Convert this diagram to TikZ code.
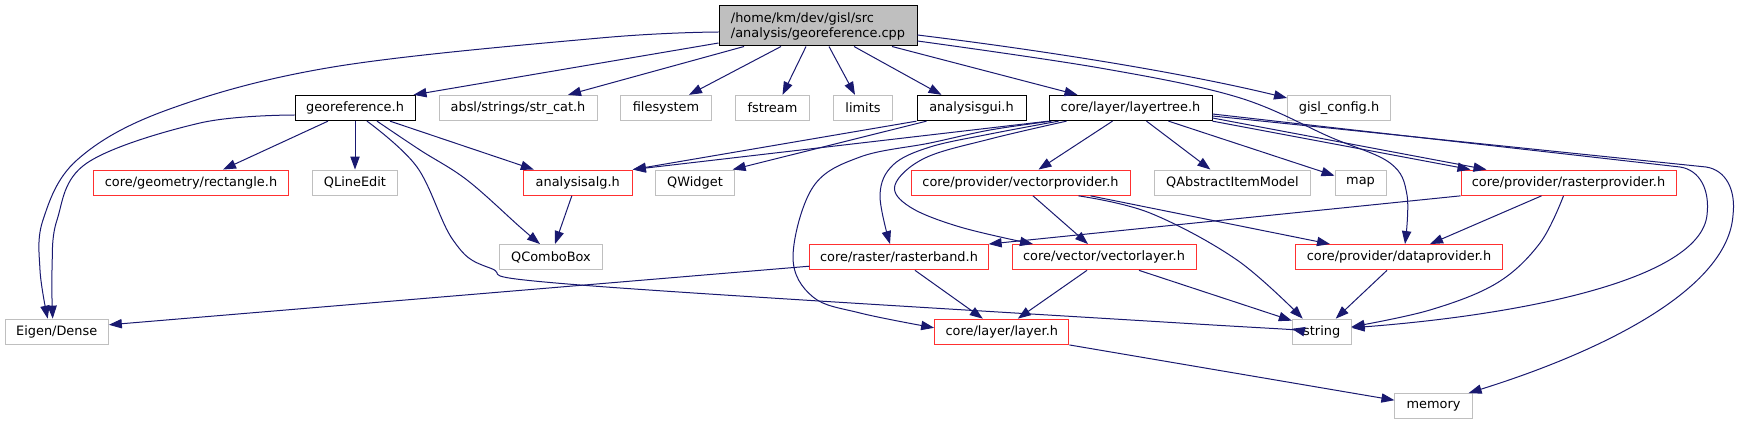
\documentclass[tikz,border=0pt]{standalone}
\usepackage{fontspec}
\setmainfont{DejaVu Sans}
\usetikzlibrary{arrows.meta}
\definecolor{edgeblue}{HTML}{191970}
\definecolor{boxred}{HTML}{FF3030}
\definecolor{boxgray}{HTML}{BFBFBF}
\tikzset{
  nbox/.style={draw, line width=1pt, minimum height=25.3pt, inner sep=0pt, font=\fontsize{12.9pt}{15pt}\selectfont, text=black},
  bnode/.style={nbox, draw=black},
  rnode/.style={nbox, draw=boxred},
  gnode/.style={nbox, draw=boxgray},
  dep/.style={draw=edgeblue, line width=1pt, -{Triangle[length=13pt,width=9.3pt]}},
}
\begin{document}
\begin{tikzpicture}[x=1pt,y=-1pt]
\fill[white] (0,0) rectangle (1739,425);
\useasboundingbox (0,0) rectangle (1739,425);
% row 0
\node[bnode, fill=boxgray, minimum width=198pt, minimum height=40pt, align=left] (root) at (818,26) {/home/km/dev/gisl/src\\/analysis/georeference.cpp};
% row 1
\node[bnode, minimum width=120pt] (geo) at (355,108) {georeference.h};
\node[gnode, minimum width=158pt] (strcat) at (518,108) {absl/strings/str\_cat.h};
\node[gnode, minimum width=91pt] (fsys) at (666,108) {filesystem};
\node[gnode, minimum width=73.6pt] (fstream) at (772.5,108) {fstream};
\node[gnode, minimum width=59.4pt] (limits) at (863,108) {limits};
\node[bnode, minimum width=109pt] (agui) at (971.5,108) {analysisgui.h};
\node[bnode, minimum width=163pt] (ltree) at (1130.5,108) {core/layer/layertree.h};
\node[gnode, minimum width=103pt] (gisl) at (1339,108) {gisl\_config.h};
% row 2
\node[rnode, minimum width=195pt] (rect) at (191,182.7) {core/geometry/rectangle.h};
\node[gnode, minimum width=84.6pt] (qline) at (355,182.7) {QLineEdit};
\node[rnode, minimum width=109pt] (aalg) at (577.8,182.7) {analysisalg.h};
\node[gnode, minimum width=78.3pt] (qwidget) at (695,182.7) {QWidget};
\node[rnode, minimum width=219pt] (vprov) at (1020.5,182.7) {core/provider/vectorprovider.h};
\node[gnode, minimum width=156.6pt] (qaim) at (1232.4,182.7) {QAbstractItemModel};
\node[gnode, minimum width=51pt] (map) at (1360.5,182.7) {map};
\node[rnode, minimum width=215pt] (rprov) at (1568.5,182.7) {core/provider/rasterprovider.h};
% row 3
\node[gnode, minimum width=103.4pt] (qcombo) at (551,257.2) {QComboBox};
\node[rnode, minimum width=178.3pt] (rband) at (899,257.2) {core/raster/rasterband.h};
\node[rnode, minimum width=184pt] (vlayer) at (1104,257.2) {core/vector/vectorlayer.h};
\node[rnode, minimum width=207pt] (dprov) at (1399,257.2) {core/provider/dataprovider.h};
% row 4
\node[gnode, minimum width=103.3pt] (eigen) at (56.7,331.8) {Eigen/Dense};
\node[rnode, minimum width=134.3pt] (layer) at (1001.8,331.8) {core/layer/layer.h};
\node[gnode, minimum width=58.7pt] (string) at (1321.7,331.8) {string};
% row 5
\node[gnode, minimum width=77.4pt] (memory) at (1433.6,406.2) {memory};

% root edges
\draw[dep] plot[smooth,tension=0.6] coordinates {([yshift=-6pt]root.west) (600,38) (333,67) (167,110) (77,160) (43,220) (40,270) ([xshift=-9pt]eigen.north)};
\draw[dep] ([yshift=-17pt]root.west) -- ([xshift=-2pt]geo.north east);
\draw[dep] ([xshift=-74pt]root.south) -- ([xshift=50pt]strcat.north);
\draw[dep] ([xshift=-37pt]root.south) -- ([xshift=23pt]fsys.north);
\draw[dep] ([xshift=-12pt]root.south) -- ([xshift=10pt]fstream.north);
\draw[dep] ([xshift=11pt]root.south) -- ([xshift=-8pt]limits.north);
\draw[dep] ([xshift=36pt]root.south) -- ([xshift=-30pt]agui.north);
\draw[dep] ([xshift=74pt]root.south) -- ([xshift=-53pt]ltree.north);
\draw[dep] ([yshift=-9pt]root.east) .. controls (1040,50) and (1180,72) .. ([yshift=10pt]gisl.west);
\draw[dep] plot[smooth,tension=0.6] coordinates {([yshift=-15pt]root.east) (1100,68) (1237,97) (1330,137) (1390,163) (1407,195) ([xshift=6pt]dprov.north)};

% georeference.h edges
\draw[dep] plot[smooth,tension=0.6] coordinates {([yshift=-7pt]geo.west) (200,123) (87,163) (57,220) (52,270) ([xshift=-4pt]eigen.north)};
\draw[dep] ([xshift=-27pt]geo.south) -- ([xshift=32pt]rect.north);
\draw[dep] (geo.south) -- (qline.north);
\draw[dep] ([xshift=35pt]geo.south) -- ([xshift=-44pt]aalg.north);
\draw[dep] plot[smooth,tension=0.6] coordinates {([xshift=22pt]geo.south) (420,150) (467,180) (520,227) ([xshift=-11pt]qcombo.north)};
\draw[dep] plot[smooth,tension=0.6] coordinates {([xshift=12pt]geo.south) (417,167) (453,240) (490,268) (580,285) (1180,323) ([yshift=3pt]string.west)};

% analysisgui.h edges
\draw[dep] (agui.south west) -- (aalg.north east);
\draw[dep] ([xshift=-45pt]agui.south) -- ([xshift=-2pt]qwidget.north east);

% layertree.h edges
\draw[dep] (ltree.south west) -- (aalg.north east);
\draw[dep] plot[smooth,tension=0.6] coordinates {([xshift=3pt]ltree.south west) (990,130) (930,143) (860,157) (813,187) (793,257) (813,297) (860,313) ([yshift=4pt]layer.west)};
\draw[dep] plot[smooth,tension=0.6] coordinates {([xshift=10pt]ltree.south west) (990,134) (930,147) (893,165) (880,195) ([xshift=-9pt]rband.north)};
\draw[dep] plot[smooth,tension=0.6] coordinates {([xshift=18pt]ltree.south west) (990,139) (925,158) (895,185) (910,207) (960,227) ([xshift=-71pt]vlayer.north)};
\draw[dep] ([xshift=-18pt]ltree.south) -- ([xshift=18pt]vprov.north);
\draw[dep] ([xshift=16pt]ltree.south) -- ([xshift=-22pt]qaim.north);
\draw[dep] ([xshift=38pt]ltree.south) -- ([yshift=7pt]map.west);
\draw[dep] (ltree.south east) -- ([xshift=-98pt]rprov.north);
\draw[dep] ([yshift=-10pt]ltree.east) -- ([xshift=-82pt]rprov.north);
\draw[dep] ([yshift=-6pt]ltree.east) -- (1680,167) .. controls (1700,170) and (1710,190) .. (1707,215) .. controls (1700,280) and (1520,315) .. ([yshift=4pt]string.east);
\draw[dep] ([yshift=-8pt]ltree.east) -- (1706,167) .. controls (1726,170) and (1736,190) .. (1733,215) .. controls (1728,290) and (1600,352) .. ([xshift=35pt]memory.north);

% analysisalg.h
\draw[dep] ([xshift=-6pt]aalg.south) -- ([xshift=4pt]qcombo.north);

% vectorprovider.h
\draw[dep] ([xshift=12.5pt]vprov.south) -- ([xshift=-16pt]vlayer.north);
\draw[dep] ([xshift=70pt]vprov.south) -- ([xshift=-69pt]dprov.north);
\draw[dep] plot[smooth,tension=0.6] coordinates {([xshift=58pt]vprov.south) (1150,213) (1237,260) ([xshift=-19pt]string.north)};

% rasterprovider.h
\draw[dep] (rprov.south west) -- (rband.north east);
\draw[dep] ([xshift=-27pt]rprov.south) -- ([xshift=31pt]dprov.north);
\draw[dep] plot[smooth,tension=0.6] coordinates {([xshift=-5pt]rprov.south) (1540,243) (1497,283) (1430,310) ([yshift=5pt]string.east)};

% dataprovider.h
\draw[dep] ([xshift=-12pt]dprov.south) -- ([xshift=14pt]string.north);

% vectorlayer.h
\draw[dep] ([xshift=35pt]vlayer.south) -- ([yshift=-2pt]string.north west);
\draw[dep] ([xshift=-17pt]vlayer.south) -- ([xshift=16pt]layer.north);

% rasterband.h
\draw[dep] ([xshift=16pt]rband.south) -- ([xshift=-19pt]layer.north);
\draw[dep] ([yshift=-9pt]rband.west) -- ([yshift=7pt]eigen.east);

% layer.h
\draw[dep] (layer.south east) -- ([yshift=6pt]memory.west);
\end{tikzpicture}
\end{document}
